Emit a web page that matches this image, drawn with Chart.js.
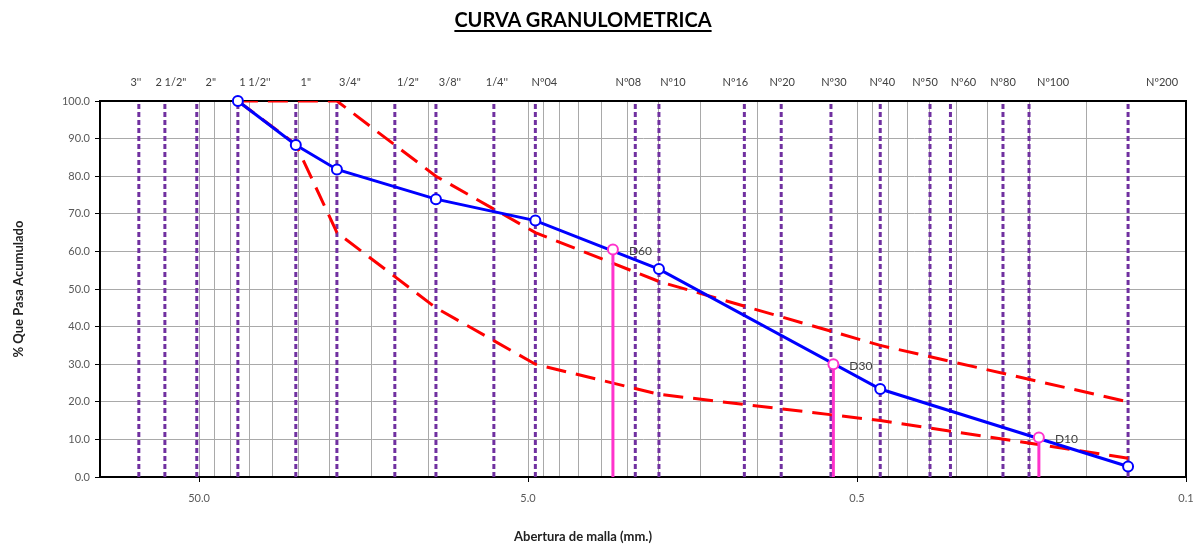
<!DOCTYPE html>
<html>
<head>
<meta charset="utf-8">
<title>Curva granulometrica</title>
<script src="https://cdn.jsdelivr.net/npm/chart.js@4.4.1/dist/chart.umd.min.js"></script>
<style>
  body { margin: 0; background: #fff; }
  #contenedor { position: relative; width: 1199px; height: 544px; }
  #titulo {
    position: absolute; left: 0; top: 7px; width: 1166px;
    text-align: center; font: bold 20px Lato, sans-serif; color: #000;
    text-decoration: underline; text-decoration-thickness: 2px; text-underline-offset: 3px;
  }
  #tituloX {
    position: absolute; left: 0; top: 528px; width: 1166px;
    text-align: center; font: bold 13px Lato, sans-serif; color: #222;
  }
</style>
</head>
<body>
<div id="contenedor">
  <canvas id="grafico" width="1199" height="544"></canvas>
  <div id="titulo">CURVA GRANULOMETRICA</div>
  <div id="tituloX">Abertura de malla (mm.)</div>
</div>
<script>
// tamices (etiquetas de arriba) y sus aberturas en mm
const tamices = ["3''", '2 1/2"', '2"', "1 1/2''", '1"', '3/4"', '1/2"', "3/8''", "1/4''", 'Nº04', 'Nº08', 'Nº10', 'Nº16', 'Nº20', 'Nº30', 'Nº40', 'Nº50', 'Nº60', 'Nº80', 'Nº100', 'Nº200'];
const aberturas = [76.2, 63.5, 50.8, 38.1, 25.4, 19.05, 12.7, 9.525, 6.35, 4.75, 2.36, 2.0, 1.1, 0.85, 0.6, 0.425, 0.3, 0.26, 0.18, 0.15, 0.075];

// ensayo y limites del huso
const aberturasEnsayo = [38.1, 25.4, 19.05, 9.525, 4.75, 2.0, 0.425, 0.075];
const pasaEnsayo = [100, 88.3, 81.8, 73.9, 68.2, 55.3, 23.4, 2.8];
const limiteSuperior = [100, 100, 100, 80, 65, 52, 35, 20];
const limiteInferior = [100, 88.5, 65, 45, 30, 22, 15, 5];

// diametros efectivos
const nombresD = ['D60', 'D30', 'D10'];
const diametrosD = [2.76, 0.59, 0.14];
const pasaD = [60.5, 30, 10.5];

// marcas del eje x (rejilla) y las que llevan etiqueta
const marcasX = [0.05, 0.1, 0.15, 0.2, 0.25, 0.3, 0.35, 0.4, 0.45, 0.5, 1, 1.5, 2, 2.5, 3, 3.5, 4, 4.5, 5, 10, 15, 20, 25, 30, 35, 40, 45, 50, 100];
const valoresEtiquetaX = [50, 5, 0.5, 0.05];
const etiquetasX = ['50.0', '5.0', '0.5', '0.1'];

// estilo: corrimiento horizontal (px) de cada etiqueta de tamiz, como en la hoja
const corrimientoTamiz = [-3, 6, 14, 17, 10, 13, 13, 14, 3, 9, -7, 14, -9, 1, 3, 2, -5, 13, 0, 24, 34];

const gris = '#a9a9a9';
Chart.defaults.font.family = 'Lato, sans-serif';

const serie = (xs, ys) => xs.map((x, i) => ({ x: x, y: ys[i] }));

const lineasTamiz = [];
aberturas.forEach(a => lineasTamiz.push({ x: a, y: 0 }, { x: a, y: 100 }, { x: a, y: null }));

const lineasD = [];
diametrosD.forEach((d, i) => lineasD.push({ x: d, y: pasaD[i] }, { x: d, y: 0 }, { x: d, y: null }));

const etiquetas = {
  id: 'etiquetas',
  afterDatasetsDraw(chart) {
    const ctx = chart.ctx;
    const escalaX = chart.scales.x;
    ctx.save();
    // nombres de tamices arriba del grafico
    ctx.font = '11px Lato, sans-serif';
    ctx.fillStyle = '#404040';
    ctx.textAlign = 'center';
    ctx.textBaseline = 'middle';
    tamices.forEach((t, i) => {
      ctx.fillText(t, escalaX.getPixelForValue(aberturas[i]) + corrimientoTamiz[i], chart.chartArea.top - 19);
    });
    // D60, D30, D10
    const meta = chart.getDatasetMeta(0);
    ctx.font = '12px Lato, sans-serif';
    ctx.textAlign = 'left';
    nombresD.forEach((n, i) => {
      const p = meta.data[i * 3];
      ctx.fillText(n, p.x + 16, p.y + 2);
    });
    ctx.restore();
  }
};

new Chart(document.getElementById('grafico'), {
  type: 'line',
  data: {
    datasets: [
      {
        label: 'D',
        data: lineasD,
        borderColor: '#ff33cc',
        borderWidth: 3,
        pointRadius: c => (c.dataIndex % 3 === 0 ? 5 : 0),
        pointBorderColor: '#ff33cc',
        pointBackgroundColor: '#fff',
        pointBorderWidth: 2,
        clip: false,
        order: 0
      },
      {
        label: 'Muestra',
        data: serie(aberturasEnsayo, pasaEnsayo),
        borderColor: '#0000ff',
        borderWidth: 3,
        pointRadius: 5,
        pointBorderColor: '#0000ff',
        pointBackgroundColor: '#fff',
        pointBorderWidth: 2,
        clip: false,
        order: 1
      },
      {
        label: 'Limite superior',
        data: serie(aberturasEnsayo, limiteSuperior),
        borderColor: '#ff0000',
        borderWidth: 3,
        borderDash: [20, 10],
        pointRadius: 0,
        order: 2
      },
      {
        label: 'Limite inferior',
        data: serie(aberturasEnsayo, limiteInferior),
        borderColor: '#ff0000',
        borderWidth: 3,
        borderDash: [20, 10],
        pointRadius: 0,
        order: 2
      },
      {
        label: 'Tamices',
        data: lineasTamiz,
        borderColor: '#7030a0',
        borderWidth: 3,
        borderDash: [5, 3],
        pointRadius: 0,
        order: 3
      }
    ]
  },
  options: {
    responsive: false,
    animation: false,
    events: [],
    layout: { padding: { right: 13 } },
    plugins: { legend: { display: false }, tooltip: { enabled: false } },
    scales: {
      x: {
        type: 'logarithmic',
        reverse: true,
        min: 0.05,
        max: 100,
        position: 'bottom',
        afterBuildTicks: s => { s.ticks = marcasX.map(v => ({ value: v })); },
        afterFit: s => { s.height = 67; },
        ticks: {
          autoSkip: false,
          maxRotation: 0,
          color: '#595959',
          font: { size: 11 },
          padding: 10,
          callback: v => {
            const i = valoresEtiquetaX.indexOf(v);
            return i >= 0 ? etiquetasX[i] : '';
          }
        },
        grid: {
          color: gris,
          tickLength: 5,
          tickColor: c => (c.tick && valoresEtiquetaX.includes(c.tick.value) ? '#000' : 'rgba(0,0,0,0)')
        },
        border: { color: '#000', width: 2 }
      },
      x2: {
        type: 'logarithmic',
        reverse: true,
        min: 0.05,
        max: 100,
        position: 'top',
        afterFit: s => { s.height = 101; },
        ticks: { display: false },
        grid: { drawOnChartArea: false, drawTicks: false },
        border: { color: '#000', width: 2 }
      },
      y: {
        min: 0,
        max: 100,
        afterFit: s => { s.width = 100; },
        ticks: {
          stepSize: 10,
          color: '#595959',
          font: { size: 11 },
          padding: 5,
          callback: v => v.toFixed(1)
        },
        grid: { color: gris, tickColor: '#000', tickLength: 5 },
        border: { color: '#000', width: 2 },
        title: {
          display: true,
          text: '% Que Pasa Acumulado',
          color: '#222',
          font: { size: 13, weight: 'bold' },
          padding: { top: 11, bottom: 0 }
        }
      },
      y2: {
        position: 'right',
        min: 0,
        max: 100,
        afterFit: s => { s.width = 0; },
        ticks: { display: false },
        grid: { display: false, drawTicks: false },
        border: { color: '#000', width: 2 }
      }
    }
  },
  plugins: [etiquetas]
});
</script>
</body>
</html>
